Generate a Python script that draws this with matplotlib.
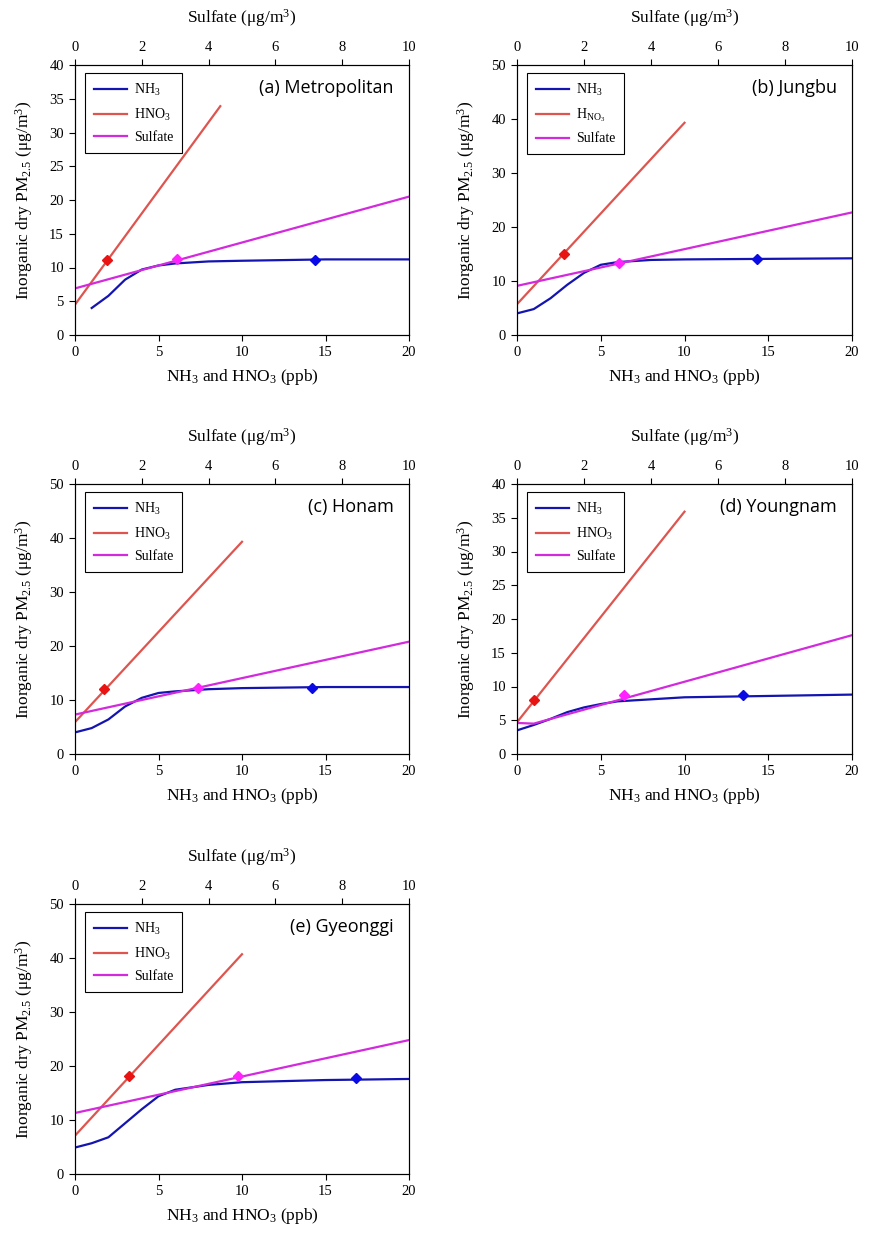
import numpy as np
import matplotlib
matplotlib.use("Agg")
import matplotlib.pyplot as plt

plt.rcParams['font.family'] = ['Liberation Serif', 'DejaVu Serif']
plt.rcParams['mathtext.fontset'] = 'custom'
plt.rcParams['mathtext.rm'] = 'Liberation Serif'
plt.rcParams['mathtext.it'] = 'Liberation Serif:italic'
plt.rcParams['mathtext.bf'] = 'Liberation Serif:bold'

nan = float('nan')

# panel titles and y limits
regions = ["(a) Metropolitan", "(b) Jungbu", "(c) Honam", "(d) Youngnam", "(e) Gyeonggi"]
y_max = [40, 50, 50, 40, 50]
y_step = [5, 10, 10, 5, 10]
hno3_labels = [r"HNO$_3$", r"H$_{\mathrm{NO_3}}$", r"HNO$_3$", r"HNO$_3$", r"HNO$_3$"]

# NH3 curves (ppb -> ug/m3)
ppb = [0, 1, 2, 3, 4, 5, 6, 8, 10, 15, 20]
nh3_a = [nan, 4.0, 5.8, 8.2, 9.7, 10.3, 10.6, 10.9, 11.0, 11.2, 11.2]
nh3_b = [4.0, 4.8, 6.8, 9.3, 11.5, 13.0, 13.5, 13.9, 14.0, 14.1, 14.2]
nh3_c = [4.0, 4.8, 6.4, 8.8, 10.4, 11.3, 11.6, 12.0, 12.2, 12.4, 12.4]
nh3_d = [3.5, 4.3, 5.2, 6.2, 6.9, 7.4, 7.8, 8.1, 8.4, 8.6, 8.8]
nh3_e = [4.9, 5.7, 6.8, 9.4, 12.0, 14.4, 15.6, 16.5, 17.0, 17.4, 17.6]
nh3_all = [nh3_a, nh3_b, nh3_c, nh3_d, nh3_e]

# HNO3 lines
hno3_x = [[0, 8.7], [0, 10], [0, 10], [0, 10], [0, 10]]
hno3_y = [[4.5, 33.9], [5.7, 39.3], [5.9, 39.3], [4.7, 35.9], [7.1, 40.7]]

# sulfate lines (top axis, ug/m3)
sulf_x = [[0, 10], [0, 10], [0, 10], [0, 0.5, 10], [0, 10]]
sulf_y = [[6.9, 20.5], [9.1, 22.7], [7.3, 20.8], [4.6, 4.5, 17.6], [11.3, 24.8]]

# base case points
nh3_pt_x = [14.4, 14.3, 14.2, 13.5, 16.8]
nh3_pt_y = [11.1, 14.1, 12.3, 8.7, 17.8]
hno3_pt_x = [1.9, 2.8, 1.75, 1.0, 3.25]
hno3_pt_y = [11.1, 15.0, 12.0, 8.0, 18.1]
sulf_pt_x = [3.05, 3.05, 3.68, 3.2, 4.88]
sulf_pt_y = [11.2, 13.3, 12.3, 8.8, 18.2]

W, H = 872, 1240
fig = plt.figure(figsize=(W / 100, H / 100), dpi=100)

# pixel boxes: left, top, right, bottom
boxes = [(75, 65, 409, 335), (517, 65, 852, 335),
         (75, 484, 409, 754), (517, 484, 852, 754),
         (75, 904, 409, 1174)]

for i, (l, t, r, b) in enumerate(boxes):
    ax = fig.add_axes([l / W, 1 - b / H, (r - l) / W, (b - t) / H])
    ax.plot(ppb, nh3_all[i], color='#1414B0', lw=1.6, label=r"NH$_3$")
    ax.plot(hno3_x[i], hno3_y[i], color='#DE5550', lw=1.6, label=hno3_labels[i])
    ax.plot(nh3_pt_x[i], nh3_pt_y[i], marker='D', color='#0A0AE6', ms=5.2, ls='none')
    ax.plot(hno3_pt_x[i], hno3_pt_y[i], marker='D', color='#E81414', ms=5.2, ls='none')
    ax.set_xlim(0, 20)
    ax.set_ylim(0, y_max[i])
    ax.set_xticks(np.arange(0, 21, 5))
    ax.set_yticks(np.arange(0, y_max[i] + 1, y_step[i]))
    ax.tick_params(direction='out', length=4, labelsize=10.5, pad=4)
    ax.set_xlabel(r"NH$_3$ and HNO$_3$ (ppb)", fontsize=12.5, labelpad=6)
    ax.set_ylabel(r"Inorganic dry PM$_{2.5}$ ($\mathrm{\mu}$g/m$^3$)", fontsize=12.5, labelpad=10)
    ax.text(0.955, 0.915, regions[i], transform=ax.transAxes, ha='right', va='center',
            fontsize=13, family=['Open Sans', 'DejaVu Sans'])

    ax2 = ax.twiny()
    ax2.plot(sulf_x[i], sulf_y[i], color='#D22ADC', lw=1.6, label="Sulfate")
    ax2.plot(sulf_pt_x[i], sulf_pt_y[i], marker='D', color='#FF22FF', ms=5.2, ls='none')
    ax2.set_xlim(0, 10)
    ax2.set_xticks(np.arange(0, 11, 2))
    ax2.tick_params(direction='out', length=4, labelsize=10.5, pad=4)
    ax2.set_xlabel(r"Sulfate ($\mathrm{\mu}$g/m$^3$)", fontsize=12.5, labelpad=13)

    h1, l1 = ax.get_legend_handles_labels()
    h2, l2 = ax2.get_legend_handles_labels()
    leg = ax2.legend(h1 + h2, l1 + l2, loc='upper left', bbox_to_anchor=(0.03, 0.97),
                     borderaxespad=0, fontsize=10, handlelength=2.4, labelspacing=0.6,
                     borderpad=0.65, handletextpad=0.45, fancybox=False, framealpha=1)
    leg.get_frame().set_edgecolor('black')
    leg.get_frame().set_linewidth(0.8)

fig.savefig("out.png", dpi=100)
